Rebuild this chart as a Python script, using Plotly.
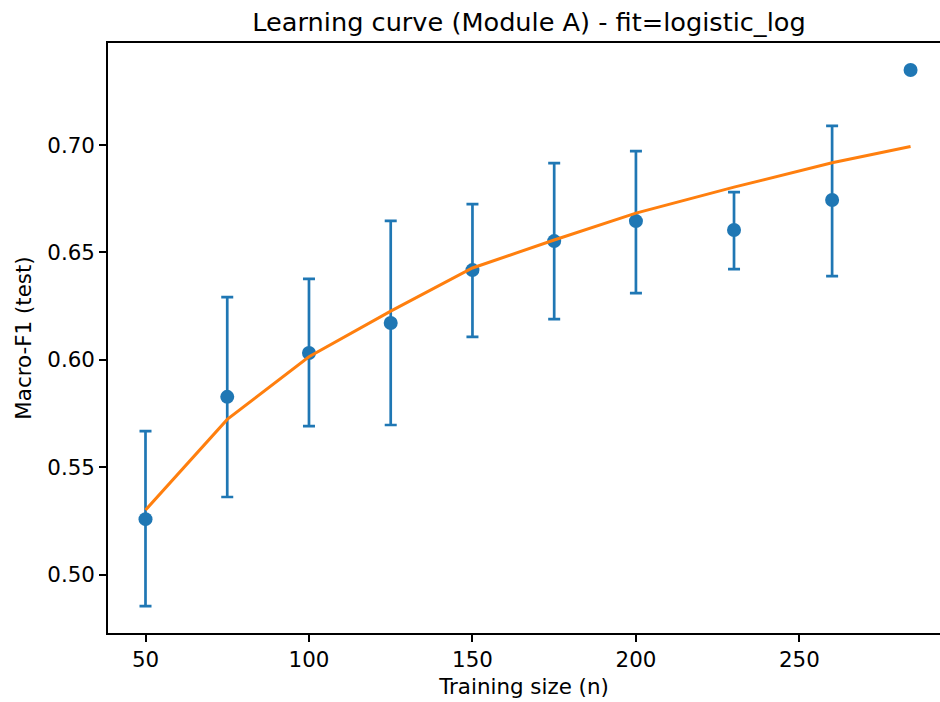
import plotly.graph_objects as go

train_size = [50, 75, 100, 125, 150, 175, 200, 230, 260, 284]
macro_f1 = [0.5259, 0.5828, 0.6032, 0.6172, 0.6418, 0.6553, 0.6646, 0.6605, 0.6744, 0.7349]
err_plus = [0.0410, 0.0464, 0.0345, 0.0475, 0.0307, 0.0363, 0.0326, 0.0176, 0.0345, 0.0]
err_minus = [0.0405, 0.0466, 0.0340, 0.0475, 0.0311, 0.0363, 0.0335, 0.0182, 0.0354, 0.0]
fit_values = [0.5301, 0.5723, 0.6015, 0.6227, 0.6428, 0.6558, 0.6683, 0.6804, 0.6918, 0.6993]

BLUE = "#1f77b4"
ORANGE = "#ff7f0e"
FONT = "DejaVu Sans"
TICK_SIZE = 21.4
TITLE_SIZE = 25.6

fig = go.Figure()
fig.add_trace(go.Scatter(
    x=train_size[:-1], y=macro_f1[:-1], mode="markers",
    marker=dict(color=BLUE, size=14),
    error_y=dict(type="data", symmetric=False, array=err_plus[:-1], arrayminus=err_minus[:-1],
                 color=BLUE, thickness=2.7, width=6),
    showlegend=False,
))
fig.add_trace(go.Scatter(
    x=train_size, y=fit_values, mode="lines",
    line=dict(color=ORANGE, width=3), showlegend=False,
))
fig.add_trace(go.Scatter(
    x=train_size[-1:], y=macro_f1[-1:], mode="markers",
    marker=dict(color=BLUE, size=14), showlegend=False,
))

axis_common = dict(
    showgrid=False, zeroline=False, showline=True, linecolor="black", linewidth=1.6,
    ticks="outside", ticklen=7, tickwidth=1.6, tickcolor="black",
    tickfont=dict(family=FONT, size=TICK_SIZE, color="black"),
)
fig.update_xaxes(
    range=[38.53, 293.0], tickvals=[50, 100, 150, 200, 250], mirror=True,
    title=dict(text="Training size (n)", font=dict(family=FONT, size=TICK_SIZE, color="black"), standoff=8),
    **axis_common,
)
fig.update_yaxes(
    range=[0.4729, 0.7475], tickvals=[0.50, 0.55, 0.60, 0.65, 0.70], tickformat=".2f",
    title=dict(text="Macro-F1 (test)", font=dict(family=FONT, size=TICK_SIZE, color="black"), standoff=10),
    **axis_common,
)
fig.update_layout(
    width=940, height=702,
    margin=dict(l=108, r=0, t=43, b=69),
    plot_bgcolor="white", paper_bgcolor="white",
    title=dict(text="Learning curve (Module A) - fit=logistic_log", x=529 / 940,
               xanchor="center", y=1 - 22 / 702, yanchor="middle",
               font=dict(family=FONT, size=TITLE_SIZE, color="black")),
)
fig.write_html("out.html")
